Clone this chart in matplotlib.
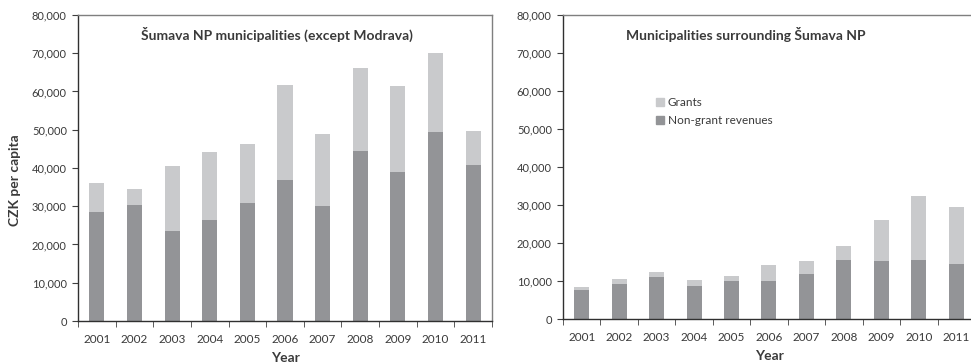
import numpy as np
import matplotlib.pyplot as plt
from matplotlib.patches import Patch

plt.rcParams['font.family'] = ['Lato', 'DejaVu Sans']

years = ['2001', '2002', '2003', '2004', '2005', '2006', '2007', '2008', '2009', '2010', '2011']

# Sumava NP municipalities (except Modrava), CZK per capita
np_nongrant = [28600, 30300, 23400, 26400, 30900, 36900, 30100, 44400, 39000, 49400, 40800]
np_total = [36000, 34400, 40500, 44100, 46300, 61600, 48900, 66200, 61400, 70000, 49600]

# Municipalities surrounding Sumava NP
sur_nongrant = [7600, 9300, 11050, 8800, 10000, 10000, 11800, 15500, 15200, 15400, 14600]
sur_total = [8300, 10400, 12400, 10300, 11300, 14100, 15300, 19200, 26100, 32300, 29400]

dark = '#939497'
light = '#c9cacc'
txt = '#3a3a3a'
spine = '#7f7f7f'

fig = plt.figure(figsize=(9.71, 3.63), dpi=100)
ax1 = fig.add_axes([0.0803, 0.1157, 0.4264, 0.843])
ax2 = fig.add_axes([0.5798, 0.1212, 0.4243, 0.8375])

def draw(ax, nongrant, total, title, tx):
    x = np.arange(len(years))
    grants = np.array(total) - np.array(nongrant)
    ax.bar(x, nongrant, width=0.4, color=dark, zorder=2)
    ax.bar(x, grants, width=0.4, bottom=nongrant, color=light, zorder=2)
    ax.set_xlim(-0.5, len(years) - 0.5)
    ax.set_ylim(0, 80000)
    ax.set_yticks(np.arange(0, 80001, 10000))
    ax.set_yticklabels(['{:,}'.format(v) for v in range(0, 80001, 10000)])
    ax.set_xticks(x)
    ax.set_xticklabels(years)
    ax.set_xticks(np.arange(-0.5, len(years)), minor=True)
    ax.tick_params(axis='x', which='major', length=0, pad=9, labelsize=8.5, colors=txt)
    ax.tick_params(axis='x', which='minor', length=4, direction='out', color='#404040')
    ax.tick_params(axis='y', length=4, direction='out', labelsize=8, pad=4, colors=txt, color='#404040')
    for s in ax.spines.values():
        s.set_color(spine)
        s.set_linewidth(1.0)
    ax.spines['left'].set_color('#303030')
    ax.spines['bottom'].set_color('#303030')
    ax.set_xlabel('Year', fontsize=10, fontweight='bold', color=txt, labelpad=5.5)
    ax.text(tx, 0.935, title, transform=ax.transAxes, ha='center', va='center',
            fontsize=10, fontweight='bold', color=txt)

draw(ax1, np_nongrant, np_total, 'Šumava NP municipalities (except Modrava)', 0.48)
draw(ax2, sur_nongrant, sur_total, 'Municipalities surrounding Šumava NP', 0.444)

ax1.set_ylabel('CZK per capita', fontsize=10, fontweight='bold', color=txt)
ax1.yaxis.set_label_coords(-0.138, 0.46)

handles = [Patch(color=light, label='Grants'), Patch(color=dark, label='Non-grant revenues')]
leg = ax2.legend(handles=handles, loc='upper left', bbox_to_anchor=(0.2, 0.765),
                 frameon=False, fontsize=8.5, handlelength=0.7, handleheight=0.7,
                 handletextpad=0.3, labelspacing=0.6)
for t in leg.get_texts():
    t.set_color(txt)

fig.savefig('out.png', dpi=100)
